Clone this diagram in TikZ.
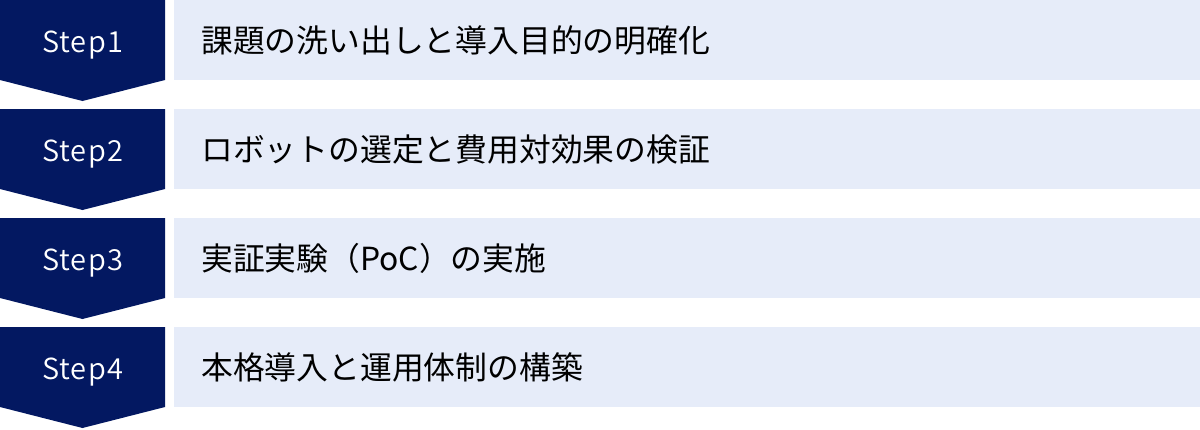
\documentclass[tikz,border=0pt]{standalone}
\usepackage{fontspec}
\setmainfont{Noto Sans CJK JP}
\newfontfamily\stepfont[LetterSpace=4]{Noto Sans CJK JP DemiLight}
\usetikzlibrary{positioning}
\definecolor{stepnavy}{RGB}{3,24,97}
\definecolor{barblue}{RGB}{230,236,249}
\tikzset{
  steplabel/.style={text=white, inner sep=0pt, font=\stepfont\fontsize{29}{29}\selectfont},
  taskbar/.style={fill=barblue, minimum width=1026pt, minimum height=80pt, inner sep=0pt, anchor=north west},
  tasktext/.style={text=black, inner sep=0pt, anchor=west, font=\fontsize{31.8}{31.8}\selectfont}
}
\begin{document}
\begin{tikzpicture}[x=1pt,y=-1pt]
\useasboundingbox (0,0) rectangle (1200,429);
\foreach \n/\task in {1/課題の洗い出しと導入目的の明確化,
                      2/ロボットの選定と費用対効果の検証,
                      3/実証実験（PoC）の実施,
                      4/本格導入と運用体制の構築} {
  \pgfmathsetmacro\rowtop{(\n-1)*109}
  % chevron
  \fill[stepnavy] (0,\rowtop) -- (165,\rowtop) -- (165,\rowtop+80)
    -- (82.5,\rowtop+101) -- (0,\rowtop+80) -- cycle;
  \node[steplabel, anchor=base] (step\n) at (82.5,\rowtop+52) {Step\n};
  % bar
  \node[taskbar] (bar\n) at (174,\rowtop) {};
  \node[tasktext, right=27pt of bar\n.west] (task\n) {\task};
}
\end{tikzpicture}
\end{document}
